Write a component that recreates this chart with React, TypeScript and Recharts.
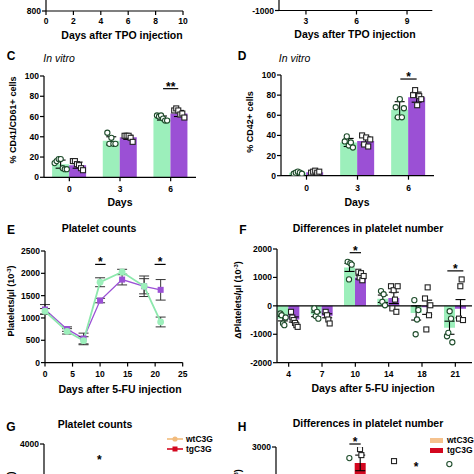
import React from "react";
import {
  ComposedChart,
  Bar,
  Line,
  Scatter,
  XAxis,
  YAxis,
  ErrorBar,
  ReferenceLine,
  ReferenceDot,
} from "recharts";

const FONT = '"Liberation Sans", Arial, Helvetica, sans-serif';
const GREEN = "#9cefbb";
const GREEN_LINE = "#8de8ad";
const PURPLE = "#9b50d5";
const WT = "#f5c28e";
const TG = "#d3071f";
const DOT_WT = "#1f4d2c";
const DOT_TG = "#222";

// A / B: only the bottom of these panels is in the crop
const tpoDaysA = [0, 2, 4, 6, 8, 10];
const tpoYTickA = [800];
const tpoDaysB = [3, 6, 9];
const tpoYTickB = [-1000];

// C: % CD41/CD61+ cells in vitro
const vitroDays = ["0", "3", "6"];
const cd41Wt = [13, 36, 58.5];
const cd41Tg = [12, 39.5, 63];
const cd41WtSd = [4, 4, 2];
const cd41TgSd = [3, 2, 3];
const cd41WtPts = [[14, 16, 18, 18, 9, 8, 8], [44, 33, 39, 33, 33], [61, 60, 61, 58, 56, 56]];
const cd41TgPts = [[16, 16, 13, 12, 9, 7], [41, 41, 41, 39, 35], [66, 68, 66, 62, 63, 59]];
const cd41Sig = [{ from: 1.85, to: 2.15, y: 87.5, label: "**" }];

// D: % CD42+ cells in vitro
const cd42Wt = [3, 33, 65.5];
const cd42Tg = [3.5, 34.5, 78];
const cd42WtSd = [1, 4, 8];
const cd42TgSd = [1, 4, 5];
const cd42WtPts = [[2, 3, 4, 3, 2], [34, 39, 30, 33, 28], [68, 58, 76, 58, 67]];
const cd42TgPts = [[3, 4, 5, 3, 4], [40, 31, 38, 29, 36], [80, 85, 70, 79, 76]];
const cd42Sig = [{ from: 1.84, to: 2.16, y: 96, label: "*" }];

// E: platelet counts after 5-FU
const fuDays = [0, 4, 7, 10, 14, 18, 21];
const countWt = [1150, 700, 490, 1800, 2030, 1710, 910];
const countWtSd = [60, 60, 90, 100, 60, 230, 110];
const countTg = [1190, 750, 540, 1390, 1860, 1710, 1630];
const countTgSd = [110, 50, 120, 50, 120, 170, 230];
const countSig = [
  { from: 9.1, to: 11, y: 2200, label: "*" },
  { from: 19.9, to: 21.9, y: 2200, label: "*" },
];

// F: differences in platelet number
const fuCats = ["4", "7", "10", "14", "18", "21"];
const diffWt = [-450, -300, 1350, 250, -250, -770];
const diffWtSd = [80, 80, 140, 130, 250, 230];
const diffTg = [-480, -350, 1000, 280, -50, -100];
const diffTgSd = [90, 70, 60, 200, 250, 320];
const diffWtPts = [
  [-270, -330, -620, -680, -410],
  [-90, -360, -210, -450],
  [1550, 930, 1500, 1450],
  [520, 140, 410, 20],
  [200, -1000, -480, -150],
  [-1070, -950, -190, -450, -1280],
];
const diffTgPts = [
  [-210, -410, -500, -600, -680, -740],
  [-210, -330, -480, -620],
  [1200, 1000, 1150, 900, 1050],
  [690, -90, 550, 220, -210, 690],
  [260, -830, 650, -330, 20],
  [-450, 690, 930, -500],
];
const diffSig = [
  { from: 1.83, to: 2.17, y: 1870, label: "*" },
  { from: 4.76, to: 5.24, y: 1230, label: "*" },
];

// G / H: only the top of these panels is in the crop
const gYTicks = [4000];
const gStars = [{ x: 10, y: 3480, label: "*" }];
const hYTicks = [3000];
const hWt = [null, null, null, null, null, null];
const hTg = [null, null, 2470, null, null, null];
const hWtSd = [null, null, null, null, null, null];
const hTgSd = [null, null, 260, null, null, null];
const hWtPts = [[], [], [2630], [], [], [2430]];
const hTgPts = [[], [], [2930, 2730], [2530], [], []];
const hSig = [{ from: 1.83, to: 2.17, y: 3100, label: "*" }];
const hStars = [{ x: 3.83, y: 2260, label: "*" }];

const YW = 40;
const MT = 10;
const MR = 10;
const XH = 30;
const OFF = 0.17;

const AX = { stroke: "#000", strokeWidth: 1.2 };
const TICK = { fontSize: 8.5, fontWeight: 700, fill: "#000", fontFamily: FONT };

function frame(x0: number, y0: number, x1: number, y1: number) {
  return {
    style: { position: "absolute" as const, left: x0 - YW, top: y0 - MT },
    width: x1 - x0 + YW + MR,
    height: y1 - y0 + MT + XH,
    margin: { top: MT, right: MR, bottom: 0, left: 0 },
  };
}

function toDots(groups: number[][], side: number) {
  return groups.flatMap((vals, i) =>
    vals.map((v, k) => {
      const n = vals.length;
      const w = Math.min(0.24, 0.04 * (n - 1));
      const s = n > 1 ? (k / (n - 1) - 0.5) * w : 0;
      return { x: i + side + s, y: v };
    })
  );
}

const circleDot = (stroke: string) => (p: any) => (
  <circle cx={p.cx} cy={p.cy} r={2.6} fill="#fff" stroke={stroke} strokeWidth={1.1} />
);
const squareDot = (stroke: string) => (p: any) => (
  <rect x={p.cx - 2.5} y={p.cy - 2.5} width={5} height={5} fill="#fff" stroke={stroke} strokeWidth={1.1} />
);

const starShape = (label: string) => (p: any) => (
  <text x={p.cx} y={p.cy + 2} textAnchor="middle" fontSize={12} fontWeight={700} fontFamily={FONT} fill="#000">
    {label}
  </text>
);

function sigLines(sig: any[], xAxisId: string | number) {
  return sig.map((s, i) => (
    <ReferenceLine
      key={`sl${i}`}
      xAxisId={xAxisId}
      segment={[{ x: s.from, y: s.y }, { x: s.to, y: s.y }]}
      stroke="#000"
      strokeWidth={1.2}
      ifOverflow="visible"
    />
  ));
}

function sigStars(sig: any[], xAxisId: string | number) {
  return sig.map((s, i) => (
    <ReferenceDot
      key={`ss${i}`}
      xAxisId={xAxisId}
      x={s.x !== undefined ? s.x : (s.from + s.to) / 2}
      y={s.y}
      r={0}
      ifOverflow="visible"
      shape={starShape(s.label)}
    />
  ));
}

function yAxis(domain: number[], ticks: number[]) {
  return (
    <YAxis
      width={YW}
      type="number"
      domain={domain}
      ticks={ticks}
      interval={0}
      allowDataOverflow
      axisLine={AX}
      tickLine={AX}
      tickSize={4}
      tickMargin={1}
      tick={TICK}
    />
  );
}

function BarPanel(props: any) {
  const { box, cats, wt, tg, wtSd, tgSd, wtPts, tgPts, yDomain, yTicks, sig, stars, fillWt, fillTg, padLeft, tickGap, zero, noXTicks } = props;
  const f = frame(box[0], box[1], box[2], box[3]);
  const rows = cats.map((c: string, i: number) => ({ day: c, wt: wt[i], tg: tg[i], wtSd: wtSd[i], tgSd: tgSd[i] }));
  const n = cats.length;
  return (
    <div style={f.style}>
      <ComposedChart
        width={f.width}
        height={f.height}
        margin={f.margin}
        data={rows}
        barCategoryGap="16%"
        barGap={0}
        style={{ overflow: "visible" }}
      >
        <XAxis
          xAxisId="cat"
          dataKey="day"
          type="category"
          height={XH}
          padding={{ left: padLeft, right: 0 }}
          interval={0}
          axisLine={AX}
          tickLine={AX}
          tickSize={4}
          tickMargin={tickGap}
          tick={noXTicks ? false : TICK}
        />
        <XAxis
          xAxisId="num"
          dataKey="x"
          type="number"
          domain={[-0.5, n - 0.5]}
          padding={{ left: padLeft, right: 0 }}
          allowDataOverflow
          hide
        />
        {yAxis(yDomain, yTicks)}
        {zero ? <ReferenceLine xAxisId="cat" y={0} stroke="#000" strokeWidth={1.2} /> : null}
        <Bar xAxisId="cat" dataKey="wt" fill={fillWt} isAnimationActive={false}>
          <ErrorBar dataKey="wtSd" width={5} stroke="#000" strokeWidth={1.1} />
        </Bar>
        <Bar xAxisId="cat" dataKey="tg" fill={fillTg} isAnimationActive={false}>
          <ErrorBar dataKey="tgSd" width={5} stroke="#000" strokeWidth={1.1} />
        </Bar>
        <Scatter xAxisId="num" data={toDots(wtPts, -OFF)} dataKey="y" shape={circleDot(DOT_WT)} isAnimationActive={false} />
        <Scatter xAxisId="num" data={toDots(tgPts, OFF)} dataKey="y" shape={squareDot(DOT_TG)} isAnimationActive={false} />
        {sigLines(sig, "num")}
        {sigStars(sig, "num")}
        {sigStars(stars || [], "num")}
      </ComposedChart>
    </div>
  );
}

function TpoFragment({ box, days, domain, yTicks, yDomain }: any) {
  const f = frame(box[0], box[1], box[2], box[3]);
  const rows = days.map((d: number) => ({ d }));
  return (
    <div style={f.style}>
      <ComposedChart width={f.width} height={f.height} margin={f.margin} data={rows}>
        <XAxis
          dataKey="d"
          type="number"
          domain={domain}
          ticks={days}
          interval={0}
          allowDataOverflow
          height={XH}
          axisLine={AX}
          tickLine={AX}
          tickSize={4}
          tickMargin={3}
          tick={TICK}
        />
        {yAxis(yDomain, yTicks)}
      </ComposedChart>
    </div>
  );
}

function CountPanel() {
  const f = frame(45, 250.7, 182.7, 362.3);
  const rows = fuDays.map((d, i) => ({
    day: d,
    wt: countWt[i],
    wtSd: countWtSd[i],
    tg: countTg[i],
    tgSd: countTgSd[i],
  }));
  return (
    <div style={f.style}>
      <ComposedChart width={f.width} height={f.height} margin={f.margin} data={rows} style={{ overflow: "visible" }}>
        <XAxis
          dataKey="day"
          type="number"
          domain={[0, 25]}
          ticks={[0, 5, 10, 15, 20, 25]}
          interval={0}
          height={XH}
          axisLine={AX}
          tickLine={AX}
          tickSize={4}
          tickMargin={4}
          tick={TICK}
        />
        {yAxis([0, 2500], [0, 500, 1000, 1500, 2000, 2500])}
        <Line
          dataKey="tg"
          stroke={PURPLE}
          strokeWidth={1.3}
          isAnimationActive={false}
          dot={(p: any) => (
            <rect key={`t${p.index}`} x={p.cx - 3} y={p.cy - 3} width={6} height={6} fill={PURPLE} />
          )}
        >
          <ErrorBar dataKey="tgSd" width={5} stroke="#333" strokeWidth={1} />
        </Line>
        <Line
          dataKey="wt"
          stroke={GREEN_LINE}
          strokeWidth={1.8}
          isAnimationActive={false}
          dot={(p: any) => <circle key={`w${p.index}`} cx={p.cx} cy={p.cy} r={3.4} fill={GREEN} />}
        >
          <ErrorBar dataKey="wtSd" width={5} stroke="#333" strokeWidth={1} />
        </Line>
        {sigLines(countSig, 0)}
        {sigStars(countSig, 0)}
      </ComposedChart>
    </div>
  );
}

function CountPanelG() {
  const f = frame(44.3, 444.3, 182.7, 584.3);
  const rows = fuDays.map((d) => ({ day: d }));
  return (
    <div style={f.style}>
      <ComposedChart width={f.width} height={f.height} margin={f.margin} data={rows} style={{ overflow: "visible" }}>
        <XAxis
          dataKey="day"
          type="number"
          domain={[0, 25]}
          ticks={[0, 5, 10, 15, 20, 25]}
          interval={0}
          height={XH}
          axisLine={AX}
          tickLine={AX}
          tickSize={4}
          tick={false}
        />
        {yAxis([0, 4000], gYTicks)}
        {sigStars(gStars, 0)}
      </ComposedChart>
    </div>
  );
}

function T({ x, y, size = 10.5, bold = true, italic = false, rotate = false, children }: any) {
  return (
    <div
      style={{
        position: "absolute",
        left: x,
        top: y,
        transform: `translate(-50%, -50%)${rotate ? " rotate(-90deg)" : ""}`,
        fontSize: size,
        fontWeight: bold ? 700 : 400,
        fontStyle: italic ? "italic" : "normal",
        whiteSpace: "nowrap",
        lineHeight: 1,
        color: "#000",
      }}
    >
      {children}
    </div>
  );
}

const Sup = ({ children }: any) => (
  <span style={{ fontSize: "0.65em", position: "relative", top: "-0.5em" }}>{children}</span>
);

function LineKey({ x, y, color, square, label }: any) {
  return (
    <div style={{ position: "absolute", left: x, top: y - 5, display: "flex", alignItems: "center", height: 10 }}>
      <svg width={17} height={10}>
        <line x1={0} y1={5} x2={16} y2={5} stroke={color} strokeWidth={1.6} />
        {square ? (
          <rect x={5.5} y={2.5} width={5} height={5} fill={color} />
        ) : (
          <circle cx={8} cy={5} r={2.6} fill={color} />
        )}
      </svg>
      <span style={{ fontSize: 8.5, fontWeight: 700, marginLeft: 2 }}>{label}</span>
    </div>
  );
}

function BoxKey({ x, y, color, label }: any) {
  return (
    <div style={{ position: "absolute", left: x, top: y - 5, display: "flex", alignItems: "center", height: 10 }}>
      <div style={{ width: 13, height: 5, background: color }} />
      <span style={{ fontSize: 8.5, fontWeight: 700, marginLeft: 4 }}>{label}</span>
    </div>
  );
}

export default function App() {
  return (
    <div
      style={{
        position: "absolute",
        left: 0,
        top: 0,
        width: 474,
        height: 474,
        overflow: "hidden",
        background: "#fff",
        fontFamily: FONT,
      }}
    >
      <TpoFragment box={[45.7, -100, 182.7, 11]} days={tpoDaysA} domain={[0, 10]} yTicks={tpoYTickA} yDomain={[800, 1600]} />
      <TpoFragment box={[278.7, -100, 432, 10.5]} days={tpoDaysB} domain={[1.4, 10.5]} yTicks={tpoYTickB} yDomain={[-1000, 1000]} />
      <T x={122} y={34.5}>Days after TPO injection</T>
      <T x={355} y={33.5}>Days after TPO injection</T>

      <T x={11} y={56} size={12}>C</T>
      <T x={59} y={58} bold={false} italic>In vitro</T>
      <T x={13} y={120} size={9} rotate>% CD41/CD61+ cells</T>
      <BarPanel
        box={[44, 75.7, 196, 177]}
        cats={vitroDays}
        wt={cd41Wt}
        tg={cd41Tg}
        wtSd={cd41WtSd}
        tgSd={cd41TgSd}
        wtPts={cd41WtPts}
        tgPts={cd41TgPts}
        yDomain={[0, 100]}
        yTicks={[0, 20, 40, 60, 80, 100]}
        sig={cd41Sig}
        fillWt={GREEN}
        fillTg={PURPLE}
        padLeft={0}
        tickGap={5}
      />
      <T x={120} y={202}>Days</T>

      <T x={242} y={56} size={12}>D</T>
      <T x={294.5} y={58} bold={false} italic>In vitro</T>
      <T x={249.5} y={122} size={9} rotate>% CD42+ cells</T>
      <BarPanel
        box={[280.5, 75, 433.5, 175.7]}
        cats={vitroDays}
        wt={cd42Wt}
        tg={cd42Tg}
        wtSd={cd42WtSd}
        tgSd={cd42TgSd}
        wtPts={cd42WtPts}
        tgPts={cd42TgPts}
        yDomain={[0, 100]}
        yTicks={[0, 20, 40, 60, 80, 100]}
        sig={cd42Sig}
        fillWt={GREEN}
        fillTg={PURPLE}
        padLeft={0}
        tickGap={5}
      />
      <T x={357} y={201.5}>Days</T>

      <T x={11} y={230} size={12}>E</T>
      <T x={99} y={228}>Platelet counts</T>
      <T x={11} y={301} size={9} rotate>
        Platelets/µl (10<Sup>-3</Sup>)
      </T>
      <CountPanel />
      <T x={120} y={389}>Days after 5-FU injection</T>

      <T x={243} y={230} size={12}>F</T>
      <T x={368} y={228}>Differences in platelet number</T>
      <T x={237.5} y={300} size={9} rotate>
        ΔPlatelets/µl (10<Sup>-3</Sup>)
      </T>
      <BarPanel
        box={[277, 249, 472, 362.7]}
        cats={fuCats}
        wt={diffWt}
        tg={diffTg}
        wtSd={diffWtSd}
        tgSd={diffTgSd}
        wtPts={diffWtPts}
        tgPts={diffTgPts}
        yDomain={[-2000, 2000]}
        yTicks={[-2000, -1000, 0, 1000, 2000]}
        sig={diffSig}
        fillWt={GREEN}
        fillTg={PURPLE}
        padLeft={-5}
        tickGap={4}
        zero
      />
      <T x={373} y={388}>Days after 5-FU injection</T>

      <T x={11} y={427} size={12}>G</T>
      <T x={95} y={423.5}>Platelet counts</T>
      <T x={11} y={507} size={9} rotate>
        Platelets/µl (10<Sup>-3</Sup>)
      </T>
      <CountPanelG />
      <LineKey x={167} y={439} color="#f2bb7c" label="wtC3G" />
      <LineKey x={167} y={449} color={TG} square label="tgC3G" />

      <T x={242} y={427} size={12}>H</T>
      <T x={368} y={423}>Differences in platelet number</T>
      <T x={237.5} y={508} size={9} rotate>
        ΔPlatelets/µl (10<Sup>-3</Sup>)
      </T>
      <BarPanel
        box={[276.3, 446.7, 472, 596.7]}
        cats={fuCats}
        wt={hWt}
        tg={hTg}
        wtSd={hWtSd}
        tgSd={hTgSd}
        wtPts={hWtPts}
        tgPts={hTgPts}
        yDomain={[-2000, 3000]}
        yTicks={hYTicks}
        sig={hSig}
        stars={hStars}
        fillWt={WT}
        fillTg={TG}
        padLeft={-4.3}
        tickGap={4}
        zero
        noXTicks
      />
      <BoxKey x={430} y={440} color={WT} label="wtC3G" />
      <BoxKey x={430} y={450} color={TG} label="tgC3G" />
    </div>
  );
}
